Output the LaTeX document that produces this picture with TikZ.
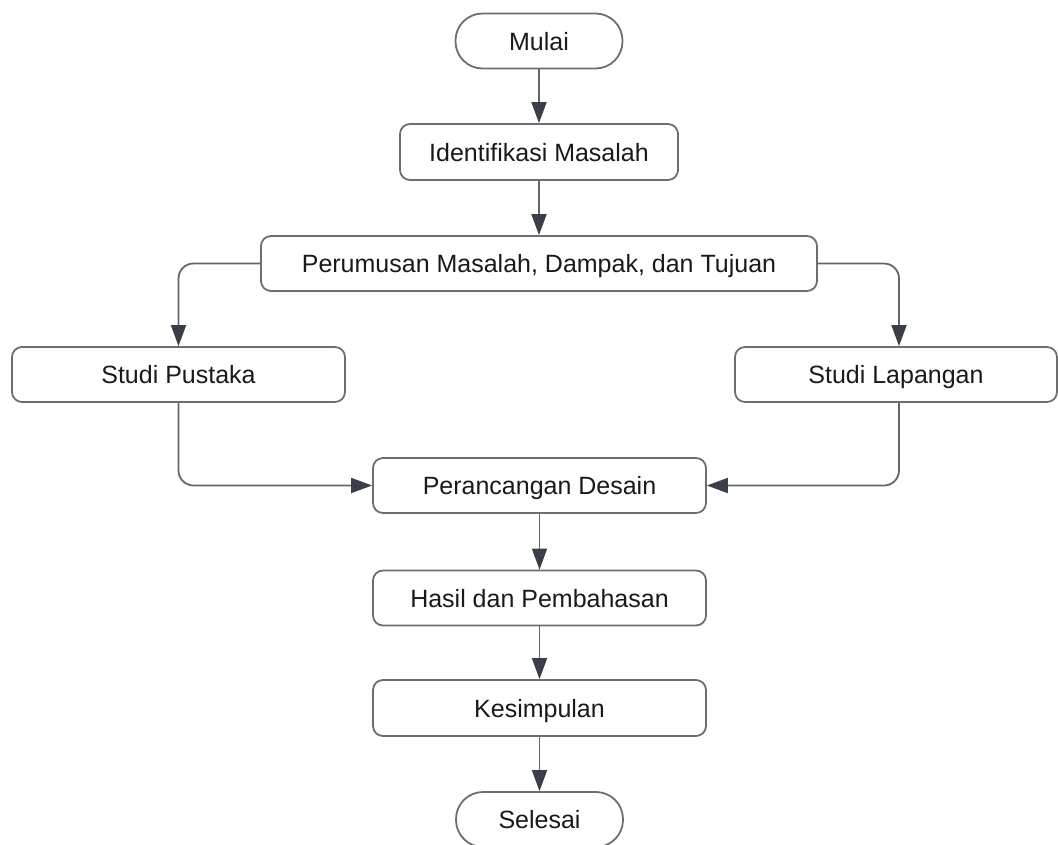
\documentclass[tikz,border=0pt]{standalone}
\usepackage{fontspec}
\setmainfont{Liberation Sans}
\usetikzlibrary{arrows.meta}
\definecolor{boxc}{HTML}{6E6E6E}
\definecolor{linec}{HTML}{666666}
\definecolor{tipc}{HTML}{3A3E49}
\definecolor{txtc}{HTML}{1A1A1A}
\tikzset{
  stepbox/.style={draw=boxc, line width=1.8pt, rounded corners=10pt, fill=white,
    minimum height=55pt, inner sep=0pt, text=txtc, text height=18pt, text depth=0pt,
    font=\fontsize{25}{30}\selectfont},
  termbox/.style={stepbox, rounded corners=27pt, minimum width=167pt},
  conn/.style={draw=linec, line width=1.8pt, rounded corners=15pt,
    -{Triangle[length=21pt,width=15pt,color=tipc]}},
}
\begin{document}
\begin{tikzpicture}[x=1pt,y=-1pt]
\useasboundingbox (0,0) rectangle (1058,844);
\node[termbox] (mulai) at (539,41) {Mulai};
\node[stepbox, minimum width=278pt, minimum height=56pt] (ident) at (539,152) {Identifikasi Masalah};
\node[stepbox, minimum width=556pt] (perum) at (539,263.5) {Perumusan Masalah, Dampak, dan Tujuan};
\node[stepbox, minimum width=333pt] (pustaka) at (178.5,374.5) {Studi Pustaka};
\node[stepbox, minimum width=322pt] (lapangan) at (896,374.5) {Studi Lapangan};
\node[stepbox, minimum width=333pt] (desain) at (539.5,485.5) {Perancangan Desain};
\node[stepbox, minimum width=333pt] (hasil) at (539.5,598) {Hasil dan Pembahasan};
\node[stepbox, minimum width=333pt, minimum height=56pt] (simpul) at (539.5,708) {Kesimpulan};
\node[termbox] (selesai) at (539.5,819.5) {Selesai};
\draw[conn] (mulai) -- (ident);
\draw[conn] (ident) -- (perum);
\draw[conn] (perum.west) -| (pustaka.north);
\draw[conn] (perum.east) -| ([xshift=3pt]lapangan.north);
\draw[conn] (pustaka.south) |- (desain.west);
\draw[conn] ([xshift=3pt]lapangan.south) |- (desain.east);
\draw[conn] (desain) -- (hasil);
\draw[conn] (hasil) -- (simpul);
\draw[conn] (simpul) -- (selesai);
\end{tikzpicture}
\end{document}
